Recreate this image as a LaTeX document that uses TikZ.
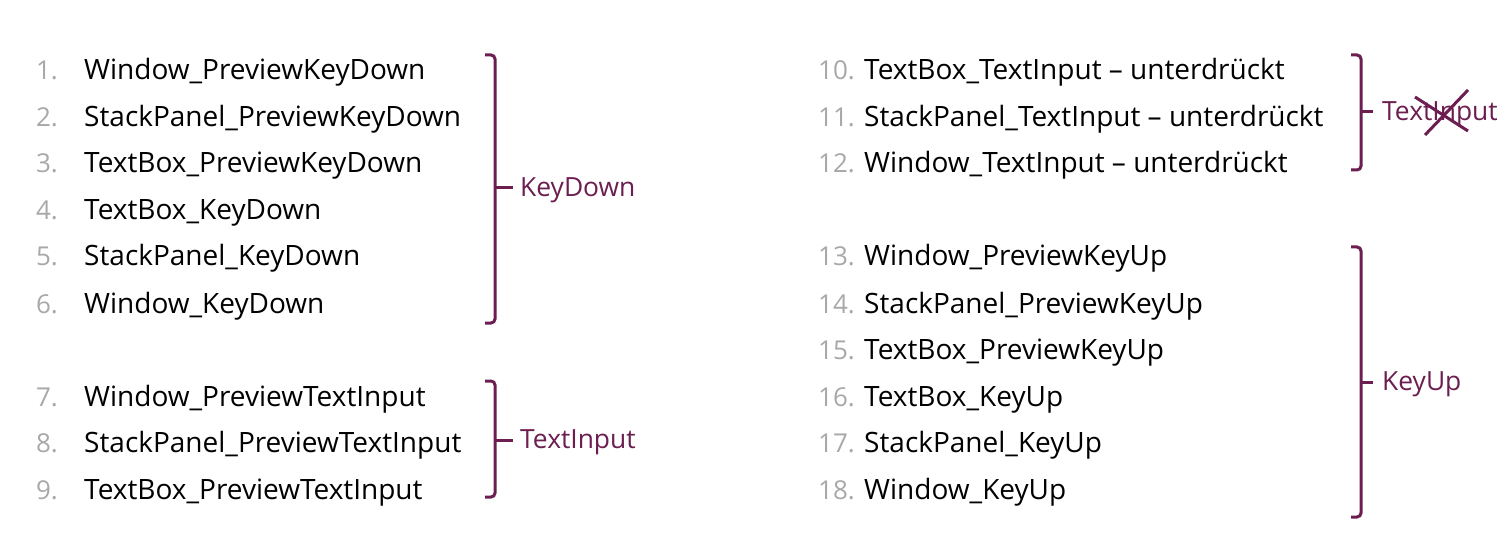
\documentclass[tikz,border=0pt]{standalone}
\usepackage{fontspec}
\setmainfont{Open Sans}
\usepackage{tikz}
\definecolor{plum}{HTML}{6B1E4F}
\definecolor{numgray}{HTML}{A8A8A8}
\tikzset{
  num/.style={anchor=base east,text=numgray,inner sep=0pt,font=\fontsize{26pt}{30pt}\selectfont},
  item/.style={anchor=base west,text=black,inner sep=0pt,font=\fontsize{28pt}{32pt}\selectfont},
  bracket/.style={draw=plum,line width=3pt,rounded corners=4pt},
  grp/.style={anchor=west,text=plum,inner sep=0pt,font=\fontsize{26.4pt}{30pt}\selectfont}
}

\begin{document}
\begin{tikzpicture}[x=1pt,y=-1pt]
  \useasboundingbox (0,0) rectangle (1499,537);
  % left column
  \foreach \i/\y/\t in {1/70/Window\_PreviewKeyDown,2/117/StackPanel\_PreviewKeyDown,
      3/163/TextBox\_PreviewKeyDown,4/210/TextBox\_KeyDown,5/256/StackPanel\_KeyDown,
      6/303/Window\_KeyDown,7/396/Window\_PreviewTextInput,8/442/StackPanel\_PreviewTextInput,
      9/489/TextBox\_PreviewTextInput}{
    \node[num] (n\i) at (58,\y+10) {\i.};
    \node[item] (t\i) at (84,\y+10) {\t};
  }
  % right column
  \foreach \i/\y/\t in {10/70/TextBox\_TextInput -- unterdrückt,11/117/StackPanel\_TextInput -- unterdrückt,
      12/163/Window\_TextInput -- unterdrückt,13/256/Window\_PreviewKeyUp,14/303/StackPanel\_PreviewKeyUp,
      15/349/TextBox\_PreviewKeyUp,16/396/TextBox\_KeyUp,17/442/StackPanel\_KeyUp,18/489/Window\_KeyUp}{
    \node[num] (n\i) at (855,\y+10) {\i.};
    \node[item] (t\i) at (864,\y+10) {\t};
  }
  % KeyDown
  \draw[bracket] (485,55) -- (495,55) -- (495,323) -- (485,323);
  \coordinate (kd) at (495,188);
  \node[grp] (keydown) at (520,190) {KeyDown};
  \draw[bracket] (kd) -- ([xshift=-7pt]keydown.west |- kd);
  % TextInput (preview)
  \draw[bracket] (485,381) -- (495,381) -- (495,497) -- (485,497);
  \coordinate (ti) at (495,440);
  \node[grp] (textinput) at (520,442) {TextInput};
  \draw[bracket] (ti) -- ([xshift=-7pt]textinput.west |- ti);
  % TextInput (suppressed)
  \draw[bracket] (1351,55) -- (1361,55) -- (1361,170) -- (1351,170);
  \coordinate (tx) at (1361,112);
  \node[grp] (textinput2) at (1382,114) {TextInput};
  \draw[bracket] (tx) -- ([xshift=-9pt]textinput2.west |- tx);
  \draw[plum,line width=3pt] (1415,97) -- (1468,131);
  \draw[plum,line width=3pt] (1425,135) -- (1468,90);
  % KeyUp
  \draw[bracket] (1351,247) -- (1361,247) -- (1361,517) -- (1351,517);
  \coordinate (ku) at (1361,382);
  \node[grp] (keyup) at (1382,384) {KeyUp};
  \draw[bracket] (ku) -- ([xshift=-9pt]keyup.west |- ku);
\end{tikzpicture}
\end{document}
